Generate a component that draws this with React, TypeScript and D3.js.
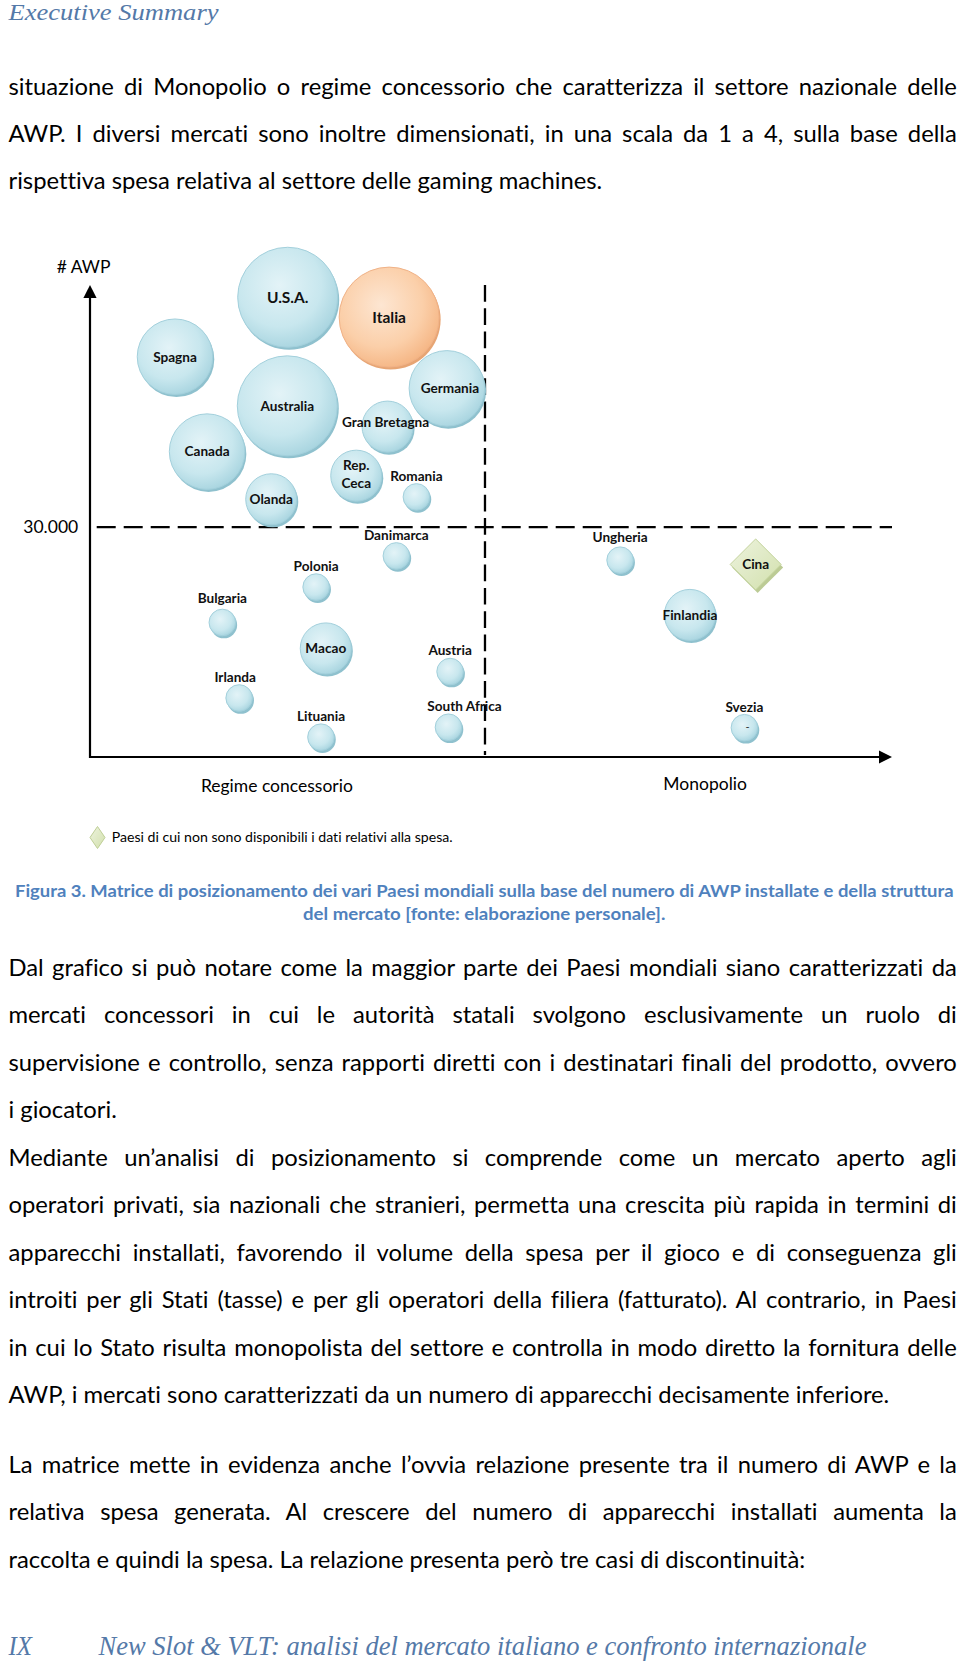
import React, { useLayoutEffect, useRef } from 'react';
import * as d3 from 'd3';

// ---------- DATA ----------
const countries = [
  'U.S.A.', 'Italia', 'Spagna', 'Australia', 'Germania', 'Gran Bretagna', 'Canada',
  'Rep. Ceca', 'Romania', 'Olanda', 'Danimarca', 'Polonia', 'Bulgaria', 'Macao',
  'Austria', 'Irlanda', 'Lituania', 'South Africa', 'Ungheria', 'Finlandia', 'Svezia', 'Cina',
];
// position on the market-structure axis (0 = regime concessorio ... 100 = monopolio)
const regimeScore = [
  24.65, 37.3, 10.6, 24.6, 44.5, 37.1, 14.6, 33.2, 40.7, 22.6, 38.2, 28.2, 16.5, 29.4,
  44.9, 18.6, 28.8, 44.7, 66.1, 74.8, 81.6, 83.0,
];
// position on the # AWP axis (relative index)
const awpScore = [
  97.4, 93.2, 84.8, 74.4, 78.1, 70.0, 64.7, 59.6, 55.1, 54.6, 42.6, 36.0, 28.5, 23.0,
  18.1, 12.5, 4.2, 6.3, 41.7, 30.1, 6.2, 40.8,
];
// spending class, scale 1..4 (null = spending data not available)
const spendClass: (number | null)[] = [
  4, 4, 3, 4, 3, 2, 3, 2, 1, 2, 1, 1, 1, 2, 1, 1, 1, 1, 1, 2, 1, null,
];
const highlighted = 'Italia';
const awpThreshold = 48.7;
const awpThresholdLabel = '30.000';
const regimeDivider = 49.25;
const yAxisTitle = '# AWP';
const xLeftTitle = 'Regime concessorio';
const xRightTitle = 'Monopolio';
const legendText = 'Paesi di cui non sono disponibili i dati relativi alla spesa.';

const headerText = 'Executive Summary';
const introLines = [
  'situazione di Monopolio o regime concessorio che caratterizza il settore nazionale delle',
  'AWP. I diversi mercati sono inoltre dimensionati, in una scala da 1 a 4, sulla base della',
  'rispettiva spesa relativa al settore delle gaming machines.',
];
const captionLines = [
  'Figura 3. Matrice di posizionamento dei vari Paesi mondiali sulla base del numero di AWP installate e della struttura',
  'del mercato [fonte: elaborazione personale].',
];
const para1Lines = [
  'Dal grafico si può notare come la maggior parte dei Paesi mondiali siano caratterizzati da',
  'mercati concessori in cui le autorità statali svolgono esclusivamente un ruolo di',
  'supervisione e controllo, senza rapporti diretti con i destinatari finali del prodotto, ovvero',
  'i giocatori.',
  'Mediante un\u2019analisi di posizionamento si comprende come un mercato aperto agli',
  'operatori privati, sia nazionali che stranieri, permetta una crescita più rapida in termini di',
  'apparecchi installati, favorendo il volume della spesa per il gioco e di conseguenza gli',
  'introiti per gli Stati (tasse) e per gli operatori della filiera (fatturato). Al contrario, in Paesi',
  'in cui lo Stato risulta monopolista del settore e controlla in modo diretto la fornitura delle',
  'AWP, i mercati sono caratterizzati da un numero di apparecchi decisamente inferiore.',
];
const para2Lines = [
  'La matrice mette in evidenza anche l\u2019ovvia relazione presente tra il numero di AWP e la',
  'relativa spesa generata. Al crescere del numero di apparecchi installati aumenta la',
  'raccolta e quindi la spesa. La relazione presenta però tre casi di discontinuità:',
];
const footerNum = 'IX';
const footerText = 'New Slot & VLT: analisi del mercato italiano e confronto internazionale';

// ---------- LAYOUT / STYLE ----------
const W = 960;
const H = 1662;
const LEFT = 8.5;
const RIGHT = 956.8;
const SANS = 'Lato, "Open Sans", sans-serif';
const SERIF = '"Liberation Serif", "DejaVu Serif", serif';
const LABEL_FS = 13.6;
const BIG_LABEL_FS = 15.5;
const NOLIG: React.CSSProperties = { fontVariantLigatures: 'none', fontFeatureSettings: '"liga" 0, "dlig" 0' };

const labelNudge: Record<string, [number, number]> = {
  'South Africa': [16, 0],
  Irlanda: [-4, 0],
  'Gran Bretagna': [-2, -4],
  Bulgaria: [0, -3],
  Ungheria: [0, -2],
  Germania: [3, 0],
  Canada: [0, -1],
  'Rep. Ceca': [0, -1.5],
};
const labelBreaks: Record<string, string[]> = { 'Rep. Ceca': ['Rep.', 'Ceca'] };

type Line = { text: string; y: number; justify: boolean; end?: number };

function buildParagraph(lines: string[], y0: number, step: number, ends: Record<number, number>): Line[] {
  return lines.map((t, i) => ({
    text: t,
    y: y0 + i * step,
    justify: ends[i] === undefined,
    end: ends[i],
  }));
}

const bodyLines: Line[] = [
  ...buildParagraph(introLines, 94.6, 47.1, { 2: 494.8 }),
  ...buildParagraph(para1Lines, 976, 47.45, { 3: 117.6, 9: 909 }),
  ...buildParagraph(para2Lines, 1473, 47.3, { 2: 932.4 }),
];

export default function App() {
  const ref = useRef<SVGSVGElement>(null);

  const x = d3.scaleLinear().domain([0, 100]).range([90, 892]);
  const y = d3.scaleLinear().domain([0, 100]).range([757, 285]);
  const r = d3.scaleLinear().domain([1, 4]).range([13.3, 50]);

  useLayoutEffect(() => {
    const svg = d3.select(ref.current);
    const ratios: number[] = [];
    svg.selectAll<SVGTextElement, unknown>('text.body-last').each(function () {
      const t = +(this.getAttribute('data-width') || 0);
      const w = this.getComputedTextLength();
      if (t > 300 && w > 0) ratios.push(t / w);
    });
    const fs = 20 * (d3.mean(ratios) ?? 1.07);
    svg.selectAll('text.body').attr('font-size', fs);
    svg.selectAll<SVGTextElement, unknown>('text.body-just').each(function () {
      const t = +(this.getAttribute('data-width') || 0);
      this.style.wordSpacing = '0px';
      const w = this.getComputedTextLength();
      const n = (this.textContent || '').split(' ').length - 1;
      if (n > 0) this.style.wordSpacing = `${(t - w) / n}px`;
    });
  }, []);

  const data = countries.map((name, i) => ({
    name,
    cx: x(regimeScore[i]),
    cy: y(awpScore[i]),
    size: spendClass[i],
  }));

  const x0 = x(0);
  const xEnd = x(100);
  const y0 = y(0);
  const yTop = y(100);
  const yThr = y(awpThreshold);
  const xDiv = x(regimeDivider);

  return (
    <svg
      ref={ref}
      width={W}
      height={H}
      viewBox={`0 0 ${W} ${H}`}
      style={{ position: 'absolute', left: 0, top: 0, display: 'block', background: '#fff', ...NOLIG }}
    >
      <defs>
        <radialGradient id="gBlue" cx="0.42" cy="0.38" r="0.64">
          <stop offset="0" stopColor="#e3f3f7" />
          <stop offset="0.65" stopColor="#c8e7ee" />
          <stop offset="1" stopColor="#a9d5e0" />
        </radialGradient>
        <radialGradient id="gOrange" cx="0.42" cy="0.38" r="0.64">
          <stop offset="0" stopColor="#fde6d2" />
          <stop offset="0.65" stopColor="#fbcfa9" />
          <stop offset="1" stopColor="#f5b685" />
        </radialGradient>
        <linearGradient id="gGreen" x1="0" y1="0" x2="1" y2="1">
          <stop offset="0" stopColor="#edf3de" />
          <stop offset="1" stopColor="#d2e0ad" />
        </linearGradient>
      </defs>
      <rect x={0} y={0} width={W} height={H} fill="#fff" />

      {/* header */}
      <text x={LEFT} y={20} fontFamily={SERIF} fontStyle="italic" fontSize={24} fill="#5479a8"
        textLength={210} lengthAdjust="spacingAndGlyphs">{headerText}</text>

      {/* body text */}
      {bodyLines.map((l, i) => (
        <text
          key={i}
          className={`body ${l.justify ? 'body-just' : 'body-last'}`}
          data-width={l.justify ? RIGHT - LEFT : (l.end as number) - LEFT}
          x={LEFT}
          y={l.y}
          fontFamily={SANS}
          fontSize={20}
          fill="#000"
          style={{ whiteSpace: 'pre', ...NOLIG }}
        >
          {l.text}
        </text>
      ))}

      {/* ---------- chart ---------- */}
      {/* dashed guides */}
      <line x1={96.7} x2={xEnd} y1={yThr} y2={yThr} stroke="#000" strokeWidth={2.3} strokeDasharray="19 8" />
      <line x1={xDiv} x2={xDiv} y1={yTop} y2={y0 - 2} stroke="#000" strokeWidth={2.3} strokeDasharray="16.7 6.6" />

      {/* axes */}
      <line x1={x0} x2={x0} y1={yTop + 10} y2={y0 + 1} stroke="#000" strokeWidth={2.2} />
      <path d={`M${x0},${yTop} L${x0 - 6.6},${yTop + 13} L${x0 + 6.6},${yTop + 13} Z`} fill="#000" />
      <line x1={x0 - 1} x2={xEnd - 10} y1={y0} y2={y0} stroke="#000" strokeWidth={2.2} />
      <path d={`M${xEnd},${y0} L${xEnd - 13},${y0 - 6.6} L${xEnd - 13},${y0 + 6.6} Z`} fill="#000" />

      <text x={56.7} y={273} fontFamily={SANS} fontSize={17.5} fill="#000">{yAxisTitle}</text>
      <text x={23.3} y={533} fontFamily={SANS} fontSize={17.5} fill="#000">{awpThresholdLabel}</text>
      <text x={x(23.3)} y={791.5} textAnchor="middle" fontFamily={SANS} fontSize={17.5} fill="#000">{xLeftTitle}</text>
      <text x={x(76.7)} y={789.5} textAnchor="middle" fontFamily={SANS} fontSize={17.5} fill="#000">{xRightTitle}</text>

      {/* bubbles */}
      {data.map((d) => {
        if (d.size === null) {
          const h = 25.5;
          const pts = (ox: number, oy: number) =>
            `M${d.cx + ox},${d.cy - h + oy} L${d.cx + h + ox},${d.cy + oy} L${d.cx + ox},${d.cy + h + oy} L${d.cx - h + ox},${d.cy + oy} Z`;
          return (
            <g key={d.name}>
              <path d={pts(2, 3)} fill="#bccb95" />
              <path d={pts(0, 0)} fill="url(#gGreen)" stroke="#c3d39c" strokeWidth={1} />
            </g>
          );
        }
        const rad = r(d.size);
        const isHi = d.name === highlighted;
        return (
          <g key={d.name}>
            <circle cx={d.cx + 1.5} cy={d.cy + 2.5} r={rad} fill={isHi ? '#e7a574' : '#8fc1ce'} />
            <circle cx={d.cx} cy={d.cy} r={rad} fill={isHi ? 'url(#gOrange)' : 'url(#gBlue)'}
              stroke={isHi ? '#f0b287' : '#a3d0dc'} strokeWidth={1} />
          </g>
        );
      })}

      {/* labels */}
      {data.map((d) => {
        const big = d.size === 4 && d.name !== 'Australia';
        const fs = big ? BIG_LABEL_FS : LABEL_FS;
        const [nx, ny] = labelNudge[d.name] || [0, 0];
        const lines = labelBreaks[d.name] || [d.name];
        const inside = d.size === null || d.size >= 2;
        const centerY = inside ? d.cy : d.cy - 21;
        return (
          <g key={`l-${d.name}`}>
            {lines.map((t, k) => (
              <text
                key={k}
                x={d.cx + nx}
                y={centerY + ny + (k - (lines.length - 1) / 2) * 17.5 + fs * 0.36}
                textAnchor="middle"
                fontFamily={SANS}
                fontWeight={700}
                fontSize={fs}
                fill="#111"
              >
                {t}
              </text>
            ))}
            {d.name === 'Svezia' && (
              <text x={d.cx + 3} y={d.cy + 3} textAnchor="middle" fontFamily={SANS} fontSize={11} fill="#333">-</text>
            )}
          </g>
        );
      })}

      {/* legend */}
      <path d="M97.5,826.5 L105,837.5 L97.5,848.5 L90,837.5 Z" fill="url(#gGreen)" stroke="#bfcf96" strokeWidth={1} />
      <text x={111.7} y={841.5} fontFamily={SANS} fontSize={13} fill="#000" textLength={341}
        lengthAdjust="spacingAndGlyphs">{legendText}</text>

      {/* caption */}
      <text x={484.3} y={897} textAnchor="middle" fontFamily={SANS} fontWeight={700} fontSize={17}
        fill="#4f81bd" textLength={938.6} lengthAdjust="spacingAndGlyphs">{captionLines[0]}</text>
      <text x={484.2} y={920} textAnchor="middle" fontFamily={SANS} fontWeight={700} fontSize={17}
        fill="#4f81bd" textLength={362.4} lengthAdjust="spacingAndGlyphs">{captionLines[1]}</text>

      {/* footer */}
      <text x={LEFT} y={1655} fontFamily={SERIF} fontStyle="italic" fontSize={28} fill="#5479a8"
        textLength={23.5} lengthAdjust="spacingAndGlyphs">{footerNum}</text>
      <text x={98.5} y={1655} fontFamily={SERIF} fontStyle="italic" fontSize={28} fill="#5479a8"
        textLength={768} lengthAdjust="spacingAndGlyphs">{footerText}</text>
    </svg>
  );
}
